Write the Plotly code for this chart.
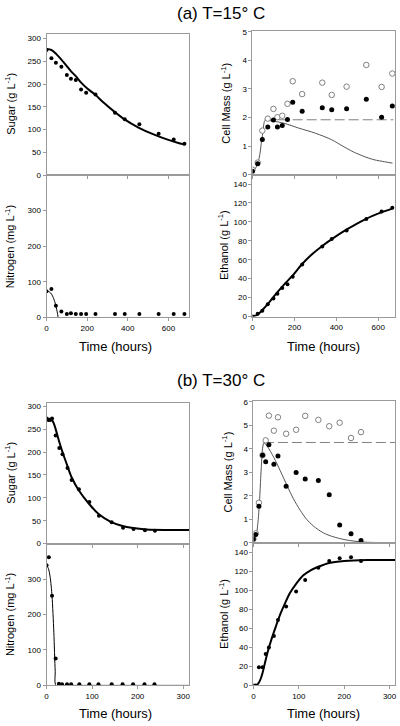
import plotly.graph_objects as go

# ---------------- DATA ----------------
# (a) T=15 C
ta_left = [0, 24, 46, 73, 100, 120, 144, 170, 195, 241, 337, 385, 457, 552, 626, 679]
ta_right = [0, 25, 47, 73, 100, 119, 142, 167, 192, 237, 333, 378, 449, 543, 616, 667]
a_sugar = [275, 257, 247, 238, 220, 212, 209, 188, 181, 177, 137, 123, 112, 91, 78, 69]
a_nitrogen = [74, 80, 33, 17, 10, 12, 10, 10, 10, 10, 10, 10, 10, 10, 10, 10]
a_cell_filled = [0.12, 0.38, 1.23, 1.67, 1.91, 1.67, 1.72, 1.93, 2.53, 2.22, 2.34, 2.27, 2.31, 2.64, 2.01, 2.40]
a_cell_open = [0.17, 0.42, 1.54, 1.96, 2.30, 2.01, 2.06, 2.48, 3.27, 2.82, 3.22, 2.79, 3.08, 3.84, 3.07, 3.54]
a_ethanol = [0, 3, 6, 13, 19, 24, 30, 34, 42, 55, 74, 82, 91, 103, 111, 115]

a_sugar_mt = [0, 24, 48, 73, 97, 121, 145, 169, 202, 239, 282, 335, 382, 455, 524, 589, 653, 679]
a_sugar_m = [277, 275, 266, 254, 241, 228, 217, 204, 190, 177, 159, 139, 123, 104, 90, 79, 70, 67]
a_nit_mt = [0, 10, 20, 30, 40, 48, 55, 58, 100, 300, 679]
a_nit_m = [74, 73, 69, 60, 45, 28, 8, 0, 0, 0, 0]
a_cell_mt = [0, 12, 24, 35, 42, 49, 55, 60, 100, 150, 220, 300, 378, 430, 480, 530, 580, 630, 668]
a_cell_m = [0.12, 0.2, 0.36, 0.7, 1.1, 1.45, 1.8, 1.9, 1.87, 1.80, 1.63, 1.45, 1.22, 1.0, 0.8, 0.64, 0.52, 0.45, 0.40]
a_cell_dash_t = [58, 672]
a_cell_dash = [1.92, 1.92]
a_eth_mt = [0, 20, 40, 60, 80, 100, 120, 140, 160, 190, 235, 280, 330, 380, 450, 540, 615, 667]
a_eth_m = [0, 1.5, 5, 10, 15, 20.5, 26, 31, 36, 43, 55, 65, 74, 82, 92, 103, 110, 114]

# (b) T=30 C
tb = [0, 5, 12, 20, 27, 34, 45, 54, 72, 94, 114, 143, 167, 190, 215, 237]
tb_sugar = [0, 4, 8, 12, 20, 28, 35, 46, 55, 71, 94, 115, 143, 168, 191, 216, 238]
b_sugar = [273, 270, 270, 273, 236, 209, 195, 165, 139, 119, 91, 61, 47, 35, 32, 29.5, 28]
b_nitrogen = [339, 362, 253, 76, 5, 3, 3, 3, 3, 3, 3, 3, 3, 3, 3, 3]
b_cell_filled = [0.17, 0.36, 1.56, 3.73, 3.45, 4.17, 3.34, 3.69, 2.41, 2.99, 2.72, 2.65, 2.05, 0.76, 0.39, 0.11]
b_cell_open = [0.17, 0.41, 1.71, 3.73, 4.36, 5.41, 4.77, 5.34, 4.64, 4.81, 5.40, 5.23, 4.96, 5.11, 4.46, 4.71]
b_ethanol = [0, 0, 19, 19, 33, 40, 52, 69, 83, 99, 111, 124, 131, 134, 135, 131]

b_sugar_mt = [0, 8, 12, 16, 20, 28, 35, 46, 55, 71, 94, 115, 140, 165, 190, 220, 260, 313]
b_sugar_m = [273, 272, 270, 262, 250, 222, 200, 169, 145, 116, 86, 64, 48, 39, 34, 31, 30, 30]
b_nit_mt = [0, 4, 8, 12, 16, 19, 21, 60, 150, 313]
b_nit_m = [339, 330, 305, 252, 150, 40, 0, 0, 0, 0]
b_cell_mt = [0, 5, 10, 14, 17, 20, 23, 30, 45, 59, 74, 88, 103, 117, 132, 154, 175, 204, 241, 313]
b_cell_m = [0.17, 0.27, 0.9, 2.0, 3.14, 4.0, 4.26, 4.12, 3.63, 3.07, 2.44, 1.88, 1.39, 1.01, 0.72, 0.43, 0.27, 0.13, 0.04, 0.01]
b_cell_dash_t = [23, 313]
b_cell_dash = [4.27, 4.27]
b_eth_mt = [0, 8, 12, 16, 20, 27, 33, 40, 50, 60, 71, 80, 94, 110, 125, 143, 167, 200, 250, 313]
b_eth_m = [0, 0.5, 3, 7, 13, 27, 38, 49, 63, 76, 88, 97, 107, 116, 121, 125, 129, 131, 132, 132]

# tick labels
ticks_time_a = [0, 200, 400, 600]
ticks_time_b = [0, 100, 200, 300]
ticks_sugar = [0, 50, 100, 150, 200, 250, 300]
ticks_nitrogen = [0, 100, 200, 300]
ticks_cell_a = [0, 1, 2, 3, 4, 5]
ticks_cell_b = [0, 1, 2, 3, 4, 5, 6]
ticks_ethanol = [0, 20, 40, 60, 80, 100, 120, 140]

# ---------------- FIGURE ----------------
W, H = 400, 726
FONT = "Arial"
GRAY = "#9a9a9a"


def xd(a, b):
    return [a / W, b / W]


def yd(top, bottom):
    return [1 - bottom / H, 1 - top / H]


fig = go.Figure()


def dots(x, y, ax, size=4):
    fig.add_trace(go.Scatter(x=x, y=y, mode="markers", xaxis="x" + ax, yaxis="y" + ax,
                             marker=dict(color="black", size=size), showlegend=False))


def open_dots(x, y, ax):
    fig.add_trace(go.Scatter(x=x, y=y, mode="markers", xaxis="x" + ax, yaxis="y" + ax,
                             marker=dict(color="white", size=5.5, line=dict(color="#808080", width=1)),
                             showlegend=False))


def curve(x, y, ax, width=2, color="black", dash="solid", shape="spline"):
    fig.add_trace(go.Scatter(x=x, y=y, mode="lines", xaxis="x" + ax, yaxis="y" + ax,
                             line=dict(color=color, width=width, dash=dash, shape=shape,
                                       smoothing=0.8 if shape == "spline" else None),
                             showlegend=False, cliponaxis=True))


# (a)
curve(a_sugar_mt, a_sugar_m, "", 2)
dots(ta_left, a_sugar, "")
curve(a_nit_mt, a_nit_m, "2", 1)
dots(ta_left, a_nitrogen, "2")
curve(a_cell_dash_t, a_cell_dash, "3", 1, "#808080", "10px,4px", "linear")
curve(a_cell_mt, a_cell_m, "3", 1, "#555555")
open_dots(ta_right, a_cell_open, "3")
dots(ta_right, a_cell_filled, "3", 5)
curve(a_eth_mt, a_eth_m, "4", 2)
dots(ta_right, a_ethanol, "4")
# (b)
curve(b_sugar_mt, b_sugar_m, "5", 2)
dots(tb_sugar, b_sugar, "5")
curve(b_nit_mt, b_nit_m, "6", 1)
dots(tb, b_nitrogen, "6")
curve(b_cell_dash_t, b_cell_dash, "7", 1, "#808080", "10px,4px", "linear")
curve(b_cell_mt, b_cell_m, "7", 1, "#555555")
open_dots(tb, b_cell_open, "7")
dots(tb, b_cell_filled, "7", 5)
curve(b_eth_mt, b_eth_m, "8", 2)
dots(tb, b_ethanol, "8")

common = dict(showline=True, linecolor=GRAY, linewidth=1, mirror=True, ticks="outside",
              ticklen=3, tickcolor=GRAY, showgrid=False, zeroline=False,
              tickfont=dict(size=8, color="black", family=FONT), fixedrange=True)

L = xd(45, 189)
R = xd(253, 397)
Rb = xd(254, 397)

layout_axes = {
    # (a) sugar
    "xaxis": dict(common, domain=L, range=[0, 702], tickvals=ticks_time_a, showticklabels=False, anchor="y"),
    "yaxis": dict(common, domain=yd(31, 174), range=[0, 311], tickvals=ticks_sugar, anchor="x"),
    # (a) nitrogen
    "xaxis2": dict(common, domain=L, range=[0, 702], tickvals=ticks_time_a, anchor="y2"),
    "yaxis2": dict(common, domain=yd(174, 318), range=[0, 400], tickvals=ticks_nitrogen, anchor="x2"),
    # (a) cell mass
    "xaxis3": dict(common, domain=R, range=[0, 680], tickvals=ticks_time_a, showticklabels=False, anchor="y3"),
    "yaxis3": dict(common, domain=yd(28, 173.5), range=[0, 5.04], tickvals=ticks_cell_a, anchor="x3"),
    # (a) ethanol
    "xaxis4": dict(common, domain=R, range=[0, 680], tickvals=ticks_time_a, anchor="y4"),
    "yaxis4": dict(common, domain=yd(173.5, 317), range=[0, 150], tickvals=ticks_ethanol, anchor="x4"),
    # (b) sugar
    "xaxis5": dict(common, domain=L, range=[0, 313], tickvals=ticks_time_b, showticklabels=False, anchor="y5"),
    "yaxis5": dict(common, domain=yd(404, 546.7), range=[0, 308], tickvals=ticks_sugar, anchor="x5"),
    # (b) nitrogen
    "xaxis6": dict(common, domain=L, range=[0, 313], tickvals=ticks_time_b, anchor="y6"),
    "yaxis6": dict(common, domain=yd(546.7, 690), range=[0, 400], tickvals=ticks_nitrogen, anchor="x6"),
    # (b) cell mass
    "xaxis7": dict(common, domain=Rb, range=[0, 312], tickvals=ticks_time_b, showticklabels=False, anchor="y7"),
    "yaxis7": dict(common, domain=yd(402, 546), range=[0, 6.05], tickvals=ticks_cell_b, anchor="x7"),
    # (b) ethanol
    "xaxis8": dict(common, domain=Rb, range=[0, 312], tickvals=ticks_time_b, anchor="y8"),
    "yaxis8": dict(common, domain=yd(546, 690), range=[0, 150], tickvals=ticks_ethanol, anchor="x8"),
}


def ann(text, x, y, size, angle=0):
    return dict(text=text, x=x / W, y=1 - y / H, xref="paper", yref="paper",
                showarrow=False, textangle=angle, xanchor="center", yanchor="middle",
                font=dict(size=size, color="black", family=FONT))


annotations = [
    ann("(a) T=15° C", 221, 11, 17),
    ann("(b) T=30° C", 221, 382, 17),
    ann("Sugar (g L<sup>-1</sup>)", 8, 102, 11, -90),
    ann("Nitrogen (mg L<sup>-1</sup>)", 8, 246, 11, -90),
    ann("Cell Mass (g L<sup>-1</sup>)", 226, 101, 11, -90),
    ann("Ethanol (g L<sup>-1</sup>)", 224, 245, 11, -90),
    ann("Time (hours)", 115, 347, 13),
    ann("Time (hours)", 325, 347, 13),
    ann("Sugar (g L<sup>-1</sup>)", 8, 475, 11, -90),
    ann("Nitrogen (mg L<sup>-1</sup>)", 8, 618, 11, -90),
    ann("Cell Mass (g L<sup>-1</sup>)", 227, 474, 11, -90),
    ann("Ethanol (g L<sup>-1</sup>)", 224, 618, 11, -90),
    ann("Time (hours)", 115, 718, 13),
    ann("Time (hours)", 325, 718, 13),
]

fig.update_layout(width=W, height=H, margin=dict(l=0, r=0, t=0, b=0),
                  paper_bgcolor="white", plot_bgcolor="white", showlegend=False,
                  hovermode=False,
                  font=dict(family=FONT, color="black"), annotations=annotations, **layout_axes)

# remove the browser's default 8px page margin so the 400x726 figure fills the window
fig.write_html("out.html",
               config={"displayModeBar": False, "staticPlot": True},
               post_script="document.body.style.margin='0px';document.body.style.padding='0px';")
